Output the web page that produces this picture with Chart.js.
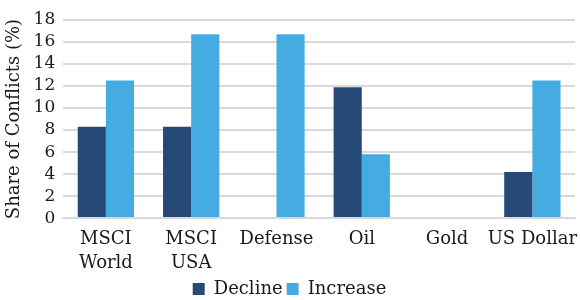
<!DOCTYPE html>
<html lang="en">
<head>
    <meta charset="UTF-8">
    <title>Share of Conflicts</title>
    <script src="https://cdn.jsdelivr.net/npm/chart.js"></script>
    <style>
        html, body { margin: 0; padding: 0; background: #fff; }
        .container { width: 580px; height: 300px; }
    </style>
</head>
<body>
    <div class="container">
        <canvas id="conflictChart"></canvas>
    </div>

    <script>
        const categories = [["MSCI", "World"], ["MSCI", "USA"], "Defense", "Oil", "Gold", "US Dollar"];
        const declineValues = [8.3, 8.3, 0, 11.9, 0, 4.2];
        const increaseValues = [12.5, 16.7, 16.7, 5.8, 0, 12.5];

        const serif = "'DejaVu Serif', 'Liberation Serif', serif";
        Chart.defaults.font.family = serif;
        Chart.defaults.font.size = 18;
        Chart.defaults.color = '#1a1a1a';

        const ctx = document.getElementById('conflictChart').getContext('2d');

        new Chart(ctx, {
            type: 'bar',
            data: {
                labels: categories,
                datasets: [
                    {
                        label: 'Decline',
                        backgroundColor: '#264a78',
                        data: declineValues,
                    },
                    {
                        label: 'Increase',
                        backgroundColor: '#44ace0',
                        data: increaseValues,
                    }
                ]
            },
            options: {
                responsive: true,
                maintainAspectRatio: false,
                animation: false,
                layout: { padding: { top: 20, right: 5, left: 4, bottom: -8 } },
                datasets: {
                    bar: { categoryPercentage: 0.66, barPercentage: 1.0 }
                },
                plugins: {
                    legend: {
                        position: 'bottom',
                        labels: { boxWidth: 12, boxHeight: 12, padding: 4 }
                    },
                    tooltip: { enabled: false }
                },
                scales: {
                    x: {
                        grid: { display: false },
                        border: { color: '#d9d9d9', width: 2 },
                        ticks: { maxRotation: 0, autoSkip: false, padding: 1, font: { lineHeight: 1.33 } }
                    },
                    y: {
                        min: 0,
                        max: 18,
                        ticks: { stepSize: 2, padding: 8, autoSkip: false, font: { size: 17 } },
                        grid: { color: '#d9d9d9', lineWidth: 2, drawTicks: false },
                        border: { display: false },
                        title: { display: true, text: 'Share of Conflicts (%)', padding: 0 }
                    }
                }
            }
        });
    </script>
</body>
</html>
